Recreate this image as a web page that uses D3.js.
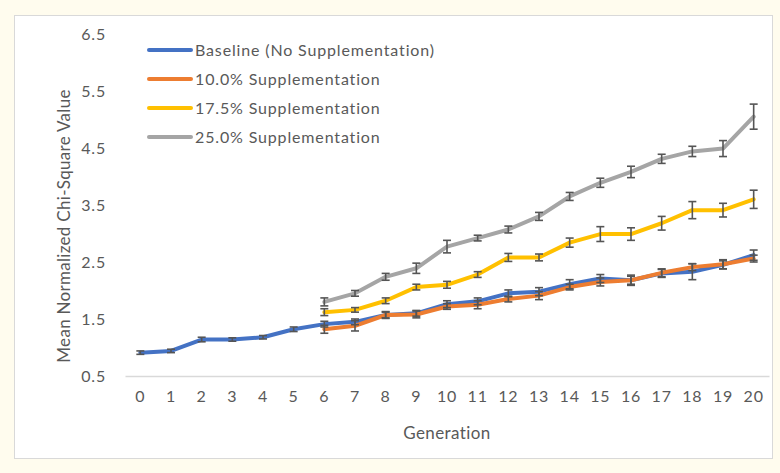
<!DOCTYPE html>
<html>
<head>
<meta charset="utf-8">
<script src="https://cdn.jsdelivr.net/npm/d3@7"></script>
<style>
  html, body { margin: 0; padding: 0; background: #fffcee; }
  svg { display: block; font-family: Lato, "Liberation Sans", sans-serif; }
</style>
</head>
<body>
<div id="chart"></div>
<script>
// Generations on the x axis
var generations = d3.range(0, 21);
var yTicks = [0.5, 1.5, 2.5, 3.5, 4.5, 5.5, 6.5];

// Series values, null where no data
var baseline = [0.91, 0.94, 1.14, 1.14, 1.18, 1.32, 1.41, 1.45, 1.57, 1.60, 1.76, 1.81, 1.95, 1.98, 2.11, 2.21, 2.18, 2.30, 2.33, 2.45, 2.62];
var supp10 = [null, null, null, null, null, null, 1.32, 1.38, 1.57, 1.58, 1.72, 1.75, 1.85, 1.91, 2.06, 2.15, 2.18, 2.31, 2.41, 2.46, 2.56];
var supp175 = [null, null, null, null, null, null, 1.62, 1.66, 1.82, 2.06, 2.10, 2.28, 2.58, 2.58, 2.84, 2.99, 2.99, 3.18, 3.41, 3.41, 3.60];
var supp25 = [null, null, null, null, null, null, 1.80, 1.95, 2.24, 2.39, 2.77, 2.92, 3.07, 3.30, 3.65, 3.89, 4.08, 4.31, 4.44, 4.49, 5.05];

// Error bar half-lengths
var errBaseline = [0.03, 0.03, 0.04, 0.03, 0.03, 0.04, 0.05, 0.05, 0.05, 0.05, 0.06, 0.06, 0.06, 0.07, 0.08, 0.07, 0.07, 0.07, 0.14, 0.07, 0.09];
var err10 = [0, 0, 0, 0, 0, 0, 0.07, 0.09, 0.06, 0.06, 0.05, 0.07, 0.05, 0.07, 0.05, 0.07, 0.09, 0.07, 0.06, 0.08, 0.06];
var err175 = [0, 0, 0, 0, 0, 0, 0.06, 0.04, 0.05, 0.05, 0.06, 0.05, 0.07, 0.06, 0.08, 0.13, 0.11, 0.12, 0.15, 0.12, 0.16];
var err25 = [0, 0, 0, 0, 0, 0, 0.07, 0.05, 0.06, 0.09, 0.11, 0.05, 0.06, 0.07, 0.07, 0.08, 0.10, 0.08, 0.09, 0.14, 0.22];

var seriesNames = ["Baseline (No Supplementation)", "10.0% Supplementation", "17.5% Supplementation", "25.0% Supplementation"];
var seriesColors = ["#4472c4", "#ed7d31", "#ffc000", "#a5a5a5"];

var series = [
    {name: seriesNames[0], color: seriesColors[0], values: baseline, err: errBaseline},
    {name: seriesNames[1], color: seriesColors[1], values: supp10, err: err10},
    {name: seriesNames[2], color: seriesColors[2], values: supp175, err: err175},
    {name: seriesNames[3], color: seriesColors[3], values: supp25, err: err25}
];

var width = 780, height = 473;
var textColor = "#595959";

var svg = d3.select('#chart').append('svg')
    .attr('width', width)
    .attr('height', height);

// Chart area box
svg.append('rect')
    .attr('x', 14.5)
    .attr('y', 15.5)
    .attr('width', 758)
    .attr('height', 443)
    .attr('fill', '#ffffff')
    .attr('stroke', '#d9d9d9');

var xScale = d3.scaleBand()
    .domain(generations)
    .range([125, 769]);

var yScale = d3.scaleLinear()
    .domain([0.5, 6.5])
    .range([376, 34]);

var xc = function(g) { return xScale(g) + xScale.bandwidth() / 2; };

// X axis
var xAxis = d3.axisBottom(xScale).tickSize(0).tickPadding(15);
var gx = svg.append('g')
    .attr('transform', 'translate(0,376)')
    .call(xAxis);
gx.select('.domain').attr('stroke', '#d9d9d9').attr('stroke-width', 1.5);
gx.selectAll('text')
    .attr('fill', textColor)
    .style('font-size', '16px')
    .style('letter-spacing', '0.8px')
    .style('font-family', 'Lato, "Liberation Sans", sans-serif');

// Y axis (labels only)
var yAxis = d3.axisLeft(yScale).tickValues(yTicks).tickSize(0).tickPadding(0)
    .tickFormat(d3.format('.1f'));
var gy = svg.append('g')
    .attr('transform', 'translate(106,0)')
    .call(yAxis);
gy.select('.domain').remove();
gy.selectAll('text')
    .attr('fill', textColor)
    .style('font-size', '16px')
    .style('letter-spacing', '0.8px')
    .style('font-family', 'Lato, "Liberation Sans", sans-serif');

// Axis titles
svg.append('text')
    .attr('x', xc(10))
    .attr('y', 439)
    .attr('text-anchor', 'middle')
    .attr('fill', textColor)
    .style('font-size', '17px')
    .style('letter-spacing', '0.4px')
    .text('Generation');

svg.append('text')
    .attr('transform', 'translate(70,' + 226 + ') rotate(-90)')
    .attr('text-anchor', 'middle')
    .attr('fill', textColor)
    .style('font-size', '17px')
    .style('letter-spacing', '0.3px')
    .text('Mean Normalized Chi-Square Value');

// Lines
var line = d3.line()
    .defined(function(d) { return d.v !== null; })
    .x(function(d) { return xc(d.g); })
    .y(function(d) { return yScale(d.v); });

series.forEach(function(s) {
    var pts = generations.map(function(g, i) { return {g: g, v: s.values[i]}; });
    svg.append('path')
        .datum(pts)
        .attr('fill', 'none')
        .attr('stroke', s.color)
        .attr('stroke-width', 4)
        .attr('stroke-linejoin', 'round')
        .attr('stroke-linecap', 'round')
        .attr('d', line);
});

// Error bars on top
var errGroup = svg.append('g')
    .attr('stroke', '#555555')
    .attr('stroke-width', 1.6);
series.forEach(function(s) {
    generations.forEach(function(g, i) {
        var v = s.values[i];
        if (v === null) return;
        var x = xc(g);
        var y1 = yScale(v - s.err[i]), y2 = yScale(v + s.err[i]);
        errGroup.append('line').attr('x1', x).attr('x2', x).attr('y1', y1).attr('y2', y2);
        errGroup.append('line').attr('x1', x - 4).attr('x2', x + 4).attr('y1', y1).attr('y2', y1);
        errGroup.append('line').attr('x1', x - 4).attr('x2', x + 4).attr('y1', y2).attr('y2', y2);
    });
});

// Legend
var legend = svg.append('g');
series.forEach(function(s, i) {
    var ly = 50 + i * 29;
    legend.append('line')
        .attr('x1', 149).attr('x2', 191)
        .attr('y1', ly).attr('y2', ly)
        .attr('stroke', s.color)
        .attr('stroke-width', 4)
        .attr('stroke-linecap', 'round');
    legend.append('text')
        .attr('x', 195)
        .attr('y', ly + 5.5)
        .attr('fill', textColor)
        .style('font-size', '16px')
        .style('letter-spacing', '0.85px')
        .text(s.name);
});
</script>
</body>
</html>
